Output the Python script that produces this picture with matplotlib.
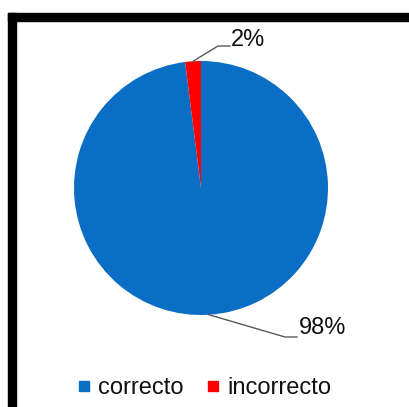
import matplotlib
matplotlib.use('Agg')
import matplotlib.pyplot as plt
from matplotlib.patches import Rectangle
from matplotlib.lines import Line2D
import numpy as np

plt.rcParams['font.family'] = ['Liberation Sans', 'DejaVu Sans']

categorias = ['correcto', 'incorrecto']
valores = [98, 2]
etiquetas = ['98%', '2%']
colores = ['#0a6ec4', '#ff0000']

W, H = 409, 407
fig = plt.figure(figsize=(W / 100, H / 100), dpi=100)
fig.patch.set_facecolor('white')

# marco negro (arriba e izquierda)
fig.patches.append(Rectangle((8 / W, 1 - 21 / H), 1 - 8 / W, 8 / H,
                             transform=fig.transFigure, color='black', zorder=5))
fig.patches.append(Rectangle((8 / W, 0), 8 / W, 1 - 13 / H,
                             transform=fig.transFigure, color='black', zorder=5))

# ejes del pastel: centro (201,188) px, radio 127 px
cx, cy, r = 201, 188, 127
ax = fig.add_axes([(cx - r) / W, (H - cy - r) / H, 2 * r / W, 2 * r / H])
ax.pie(valores, colors=colores, startangle=90, counterclock=False,
       radius=1, wedgeprops=dict(linewidth=0))
ax.set_xlim(-1, 1)
ax.set_ylim(-1, 1)
ax.set_aspect('equal')
ax.axis('off')

# etiquetas con lineas guia
def px(x, y):
    return ((x - cx) / r, (cy - y) / r)

# angulos medios de cada porcion
inicio = 90
for i, v in enumerate(valores):
    ang = inicio - v / sum(valores) * 360 / 2
    inicio -= v / sum(valores) * 360
    p0 = (np.cos(np.radians(ang)), np.sin(np.radians(ang)))
    if i == 0:
        codo = px(285, 337)
        fin = px(297, 337)
        txt = px(299, 328)
    else:
        codo = px(218, 46)
        fin = px(230, 46)
        txt = px(231, 39.5)
    ax.plot([p0[0], codo[0], fin[0]], [p0[1], codo[1], fin[1]],
            color='#595959', lw=1, clip_on=False)
    ax.text(txt[0], txt[1], etiquetas[i], fontsize=17, color='#111111',
            ha='left', va='center', clip_on=False)

handles = [Line2D([], [], marker='s', linestyle='none', markersize=7,
                  markerfacecolor=c, markeredgecolor=c) for c in colores]
fig.legend(handles, categorias, loc='center', ncol=2,
           bbox_to_anchor=(205 / W, 1 - 388 / H), frameon=False,
           fontsize=17, handlelength=0.5, handletextpad=0.35,
           columnspacing=1.0, labelcolor='#111111')

fig.savefig('out.png', dpi=100, facecolor='white')
